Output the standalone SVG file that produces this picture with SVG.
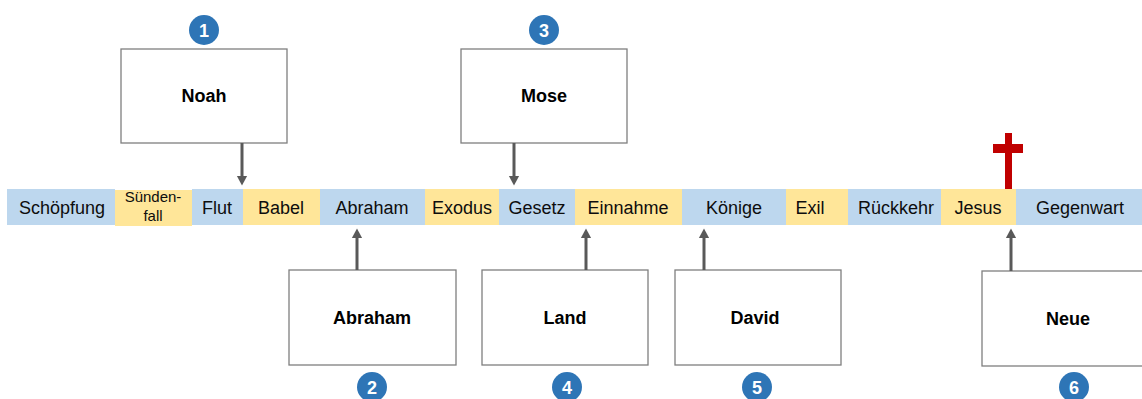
<svg xmlns="http://www.w3.org/2000/svg" width="1142" height="399" viewBox="0 0 1142 399">
<defs>
<style>
.b{fill:#BDD7EE}.y{fill:#FFE699}
.t{font-family:"Liberation Sans",Arial,sans-serif;font-size:18px;fill:#0d0d0d;text-anchor:middle}
.s{font-family:"Liberation Sans",Arial,sans-serif;font-size:15px;fill:#0d0d0d;text-anchor:middle}
.box{fill:#fff;stroke:#7f7f7f;stroke-width:1.3}
.bl{font-family:"Liberation Sans",Arial,sans-serif;font-size:18px;font-weight:bold;fill:#000;text-anchor:middle}
.c{fill:#2E75B6}
.n{font-family:"Liberation Sans",Arial,sans-serif;font-size:18px;font-weight:bold;fill:#fff;text-anchor:middle}
.ar{stroke:#595959;stroke-width:3;fill:none}
</style>
<marker id="ah" markerWidth="4" markerHeight="4" refX="2" refY="2" orient="auto" markerUnits="strokeWidth" viewBox="0 0 4 4">
<path d="M0,0.3 L3.2,2 L0,3.7 Z" fill="#595959"/>
</marker>
</defs>
<g id="timeline">
<rect class="b" x="7" y="189" width="108" height="36"/>
<rect class="y" x="115" y="190" width="77" height="36"/>
<rect class="b" x="192" y="189" width="51" height="36"/>
<rect class="y" x="243" y="189" width="77" height="36"/>
<rect class="b" x="320" y="189" width="105" height="36"/>
<rect class="y" x="425" y="189" width="74" height="36"/>
<rect class="b" x="499" y="189" width="76" height="36"/>
<rect class="y" x="575" y="189" width="107" height="36"/>
<rect class="b" x="682" y="189" width="104" height="36"/>
<rect class="y" x="786" y="189" width="62" height="36"/>
<rect class="b" x="848" y="189" width="93" height="36"/>
<rect class="y" x="941" y="189" width="75" height="36"/>
<rect class="b" x="1016" y="189" width="126" height="36"/>
<text class="t" x="62" y="214">Schöpfung</text>
<text class="s" x="153" y="202">Sünden-</text>
<text class="s" x="153" y="221">fall</text>
<text class="t" x="217" y="214">Flut</text>
<text class="t" x="281" y="214">Babel</text>
<text class="t" x="372" y="214">Abraham</text>
<text class="t" x="462" y="214">Exodus</text>
<text class="t" x="537" y="214">Gesetz</text>
<text class="t" x="628" y="214">Einnahme</text>
<text class="t" x="734" y="214">Könige</text>
<text class="t" x="810" y="214">Exil</text>
<text class="t" x="896" y="214">Rückkehr</text>
<text class="t" x="978" y="214">Jesus</text>
<text class="t" x="1080" y="214">Gegenwart</text>
</g>
<g id="cross" fill="#C00000">
<rect x="1005" y="133" width="7" height="56"/>
<rect x="993" y="144" width="30" height="9"/>
</g>
<g id="node-noah">
<rect class="box" x="121" y="49" width="166" height="94"/>
<text class="bl" x="204" y="102">Noah</text>
<circle class="c" cx="204" cy="30" r="15"/>
<text class="n" x="204" y="36.5">1</text>
</g>
<g id="node-mose">
<rect class="box" x="461" y="49" width="166" height="94"/>
<text class="bl" x="544" y="102">Mose</text>
<circle class="c" cx="544" cy="30" r="15"/>
<text class="n" x="544" y="36.5">3</text>
</g>
<g id="node-abraham">
<rect class="box" x="289" y="270" width="167" height="95"/>
<text class="bl" x="372" y="324">Abraham</text>
<circle class="c" cx="372" cy="387" r="15"/>
<text class="n" x="372" y="393.5">2</text>
</g>
<g id="node-land">
<rect class="box" x="482" y="270" width="166" height="95"/>
<text class="bl" x="565" y="324">Land</text>
<circle class="c" cx="567" cy="387" r="15"/>
<text class="n" x="567" y="393.5">4</text>
</g>
<g id="node-david">
<rect class="box" x="675" y="270" width="166" height="95"/>
<text class="bl" x="755" y="324">David</text>
<circle class="c" cx="757" cy="387" r="15"/>
<text class="n" x="757" y="393.5">5</text>
</g>
<g id="node-neue">
<rect class="box" x="982" y="271" width="170" height="95"/>
<text class="bl" x="1068" y="325">Neue</text>
<circle class="c" cx="1074" cy="387" r="15"/>
<text class="n" x="1074" y="393.5">6</text>
</g>
<g id="connectors">
<line class="ar" x1="242" y1="143" x2="242" y2="182" marker-end="url(#ah)"/>
<line class="ar" x1="514" y1="143" x2="514" y2="182" marker-end="url(#ah)"/>
<line class="ar" x1="357" y1="270" x2="357" y2="232" marker-end="url(#ah)"/>
<line class="ar" x1="586" y1="270" x2="586" y2="232" marker-end="url(#ah)"/>
<line class="ar" x1="704" y1="270" x2="704" y2="232" marker-end="url(#ah)"/>
<line class="ar" x1="1011" y1="271" x2="1011" y2="232" marker-end="url(#ah)"/>
</g>
</svg>
